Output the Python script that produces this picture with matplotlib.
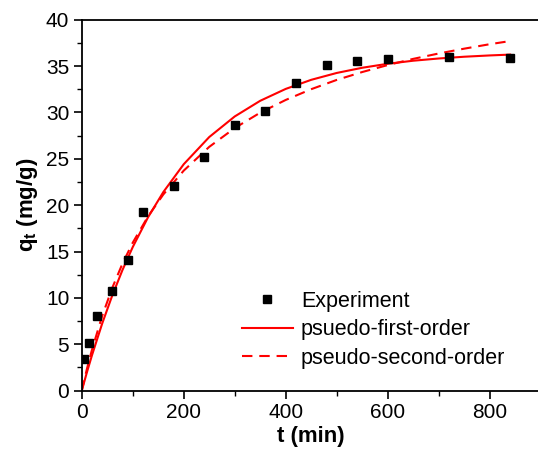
import matplotlib
matplotlib.use("Agg")
import matplotlib.pyplot as plt
from matplotlib.ticker import MultipleLocator

plt.rcParams['font.family'] = ['Liberation Sans', 'DejaVu Sans']
plt.rcParams['mathtext.fontset'] = 'custom'
plt.rcParams['mathtext.rm'] = 'Liberation Sans'
plt.rcParams['mathtext.bf'] = 'Liberation Sans:bold'
plt.rcParams['mathtext.it'] = 'Liberation Sans:italic'

# Experimental data
t_exp = [5, 15, 30, 60, 90, 120, 180, 240, 300, 360, 420, 480, 540, 600, 720, 840]
q_exp = [3.4, 5.1, 8.0, 10.75, 14.05, 19.25, 22.1, 25.15, 28.7, 30.2, 33.2, 35.15, 35.6, 35.75, 35.95, 35.85]

# Curves
t_fit = [0, 10, 20, 40, 60, 80, 100, 130, 160, 200, 250, 300, 350, 400, 450, 500,
         550, 600, 650, 700, 750, 800, 840]
q_pfo = [0, 1.96, 3.81, 7.23, 10.29, 13.03, 15.49, 18.70, 21.42, 24.42, 27.35, 29.57,
         31.26, 32.54, 33.52, 34.26, 34.82, 35.25, 35.58, 35.82, 36.01, 36.15, 36.24]
q_pso = [0, 2.32, 4.41, 8.05, 11.11, 13.72, 15.96, 18.80, 21.16, 23.73, 26.29, 28.32,
         29.98, 31.35, 32.51, 33.51, 34.36, 35.11, 35.78, 36.36, 36.88, 37.36, 37.70]

x_ticks = [0, 200, 400, 600, 800]
y_ticks = [0, 5, 10, 15, 20, 25, 30, 35, 40]

fig = plt.figure(figsize=(5.38, 4.59), dpi=100)
ax = fig.add_axes([0.152, 0.149, 0.853, 0.808])

ax.plot(t_exp, q_exp, 's', color='black', markersize=5.8, label='Experiment', zorder=3)
ax.plot(t_fit, q_pfo, '-', color='#ff0000', linewidth=1.5, label='psuedo-first-order')
ax.plot(t_fit, q_pso, '--', color='#ff0000', linewidth=1.5, label='pseudo-second-order',
        dashes=(5, 3.3))

ax.set_xlim(0, 900)
ax.set_ylim(0, 40)
ax.set_xticks(x_ticks)
ax.set_yticks(y_ticks)
ax.xaxis.set_minor_locator(MultipleLocator(100))
ax.yaxis.set_minor_locator(MultipleLocator(2.5))
ax.tick_params(which='major', direction='out', length=6, width=1.2, labelsize=15, pad=3)
ax.tick_params(which='minor', direction='out', length=3.5, width=1.0)
for s in ax.spines.values():
    s.set_linewidth(1.3)

ax.set_xlabel('t (min)', fontsize=16, fontweight='bold', labelpad=3)
ax.set_ylabel(r'$\mathbf{q_t}$ (mg/g)', fontsize=16, fontweight='bold', labelpad=4)

leg = ax.legend(loc='upper left', bbox_to_anchor=(0.330, 0.292), frameon=False,
                fontsize=15.5, handlelength=2.37, handletextpad=0.37, labelspacing=0.34,
                borderaxespad=0)

fig.savefig('out.png', dpi=100)
